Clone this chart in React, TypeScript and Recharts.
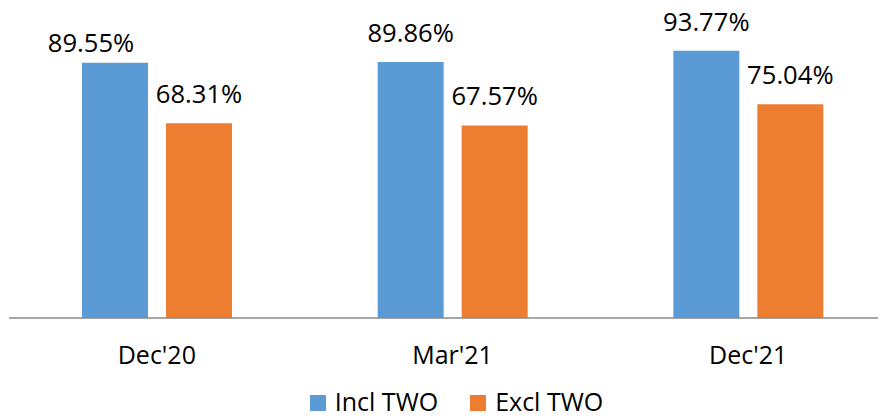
import { Bar, BarChart, LabelList, Legend, XAxis, YAxis } from "recharts";

const periods = ["Dec'20", "Mar'21", "Dec'21"];
const inclTwo = [89.55, 89.86, 93.77];
const exclTwo = [68.31, 67.57, 75.04];

const BLUE = "#5B9BD5";
const ORANGE = "#ED7D31";
const FONT = "'Open Sans', sans-serif";

const data = periods.map((p, i) => ({ period: p, incl: inclTwo[i], excl: exclTwo[i] }));

// the first blue label was dragged by hand in the original
const blueNudge: Record<number, [number, number]> = { 0: [-24, 9] };

function makeLabel(nudge: Record<number, [number, number]>) {
  return (props: any) => {
    const { x, y, width, value, index } = props;
    const [dx, dy] = nudge[index] || [0, 0];
    return (
      <text
        x={Number(x) + Number(width) / 2 + dx}
        y={Number(y) - 20 + dy}
        textAnchor="middle"
        fontSize={25.6}
        fontFamily={FONT}
        fill="#000"
      >
        {Number(value).toFixed(2)}%
      </text>
    );
  };
}

function PeriodTick(props: any) {
  const { x, y, payload } = props;
  return (
    <text x={x} y={y} dy={46} textAnchor="middle" fontSize={25} fontFamily={FONT} fill="#000">
      {payload.value}
    </text>
  );
}

function LegendBox() {
  const items = [
    { name: "Incl TWO", color: BLUE },
    { name: "Excl TWO", color: ORANGE },
  ];
  return (
    <div
      style={{
        display: "flex",
        justifyContent: "center",
        alignItems: "flex-start",
        gap: 32,
        paddingLeft: 8,
        fontFamily: FONT,
        fontSize: 25,
        lineHeight: "26px",
        color: "#000",
      }}
    >
      {items.map((it) => (
        <div key={it.name} style={{ display: "flex", alignItems: "flex-start" }}>
          <span style={{ width: 16, height: 16, marginTop: 7, marginRight: 9, background: it.color }} />
          <span>{it.name}</span>
        </div>
      ))}
    </div>
  );
}

export default function App() {
  return (
    <div style={{ width: 878, height: 418, marginTop: -8, overflow: "hidden", fontFamily: FONT }}>
      <BarChart
        width={888}
        height={418}
        data={data}
        margin={{ top: 33, right: 0, left: 1, bottom: 0 }}
        barSize={66}
        barGap={18}
      >
        <XAxis
          dataKey="period"
          height={70}
          tickLine={false}
          tickSize={0}
          tickMargin={0}
          axisLine={{ stroke: "#898989", strokeWidth: 1.3 }}
          tick={<PeriodTick />}
        />
        <YAxis hide domain={[0, 100]} />
        <Legend verticalAlign="bottom" height={30} content={<LegendBox />} />
        <Bar dataKey="incl" name="Incl TWO" fill={BLUE} isAnimationActive={false}>
          <LabelList dataKey="incl" content={makeLabel(blueNudge)} />
        </Bar>
        <Bar dataKey="excl" name="Excl TWO" fill={ORANGE} isAnimationActive={false}>
          <LabelList dataKey="excl" content={makeLabel({})} />
        </Bar>
      </BarChart>
    </div>
  );
}
